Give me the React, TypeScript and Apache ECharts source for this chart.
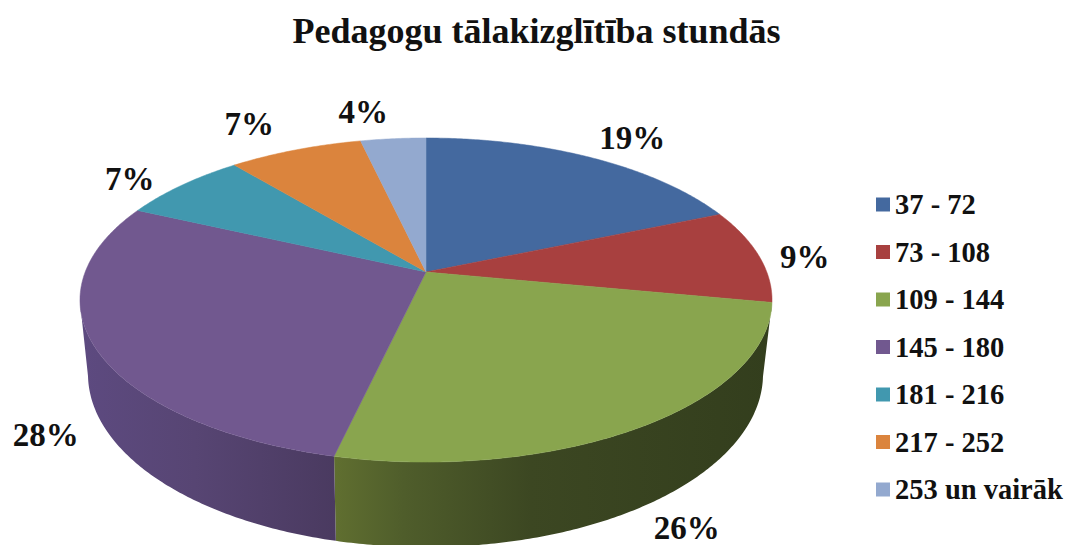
import React, { useEffect, useRef } from "react";
import * as echarts from "echarts";

const titleText = "Pedagogu tālakizglītība stundās";
const categories = ["37 - 72", "73 - 108", "109 - 144", "145 - 180", "181 - 216", "217 - 252", "253 un vairāk"];
const values = [18.6, 9.4, 25.6, 28.3, 7.1, 7.4, 3.6];
const colors = ["#44699f", "#a8403f", "#89a54e", "#71588f", "#4198af", "#db843d", "#93a9cf"];

// Offset of each percentage label from the middle of its slice's rim
const labelOffsets = [[42, -19], [46, 1], [43, 102], [-49, 88], [-52, -6], [-46, -26], [-30, -27]];

const wallStops: Record<number, [number, string][]> = {
  2: [[0, "#606f30"], [0.16, "#4f5d2b"], [0.45, "#3c4722"], [1, "#333e1d"]],
  3: [[0, "#5d4a80"], [0.45, "#574573"], [1, "#4a3a60"]],
};

// Perspective disc geometry
const CX = 426, APEX_Y = 272, PX = 340.8, PY = 157.2, K = 0.173;
const TOP_CY = 300, TOP_RX = 346, TOP_RY = 162;
const BOT_CX = 425.5, BOT_CY = 374, BOT_RX = 337.5, BOT_RY = 173;

const total = values.reduce((a, b) => a + b, 0);
const project = (theta: number) => {
  const w = 1 + K * Math.cos(theta);
  return [CX + (PX * Math.sin(theta)) / w, APEX_Y - (PY * Math.cos(theta)) / w];
};
const lower = (p: number[]) => [
  BOT_CX + ((p[0] - CX) / TOP_RX) * BOT_RX,
  BOT_CY + ((p[1] - TOP_CY) / TOP_RY) * BOT_RY,
];

const makeRender = (index: number) => (_params: any, api: any) => {
  const value = api.value(0);
  const before = values.slice(0, index).reduce((a, b) => a + b, 0);
  const start = (before / total) * Math.PI * 2;
  const sweep = (value / total) * Math.PI * 2;
  const steps = Math.max(8, Math.ceil(sweep / 0.01));
  const rim: number[][] = [];
  for (let i = 0; i <= steps; i++) rim.push(project(start + (sweep * i) / steps));

  const children: any[] = [];
  const front = rim.filter((p) => p[1] >= 302);
  if (front.length > 1) {
    const back = front.map(lower).reverse();
    const xs = front.concat(back).map((p) => p[0]);
    const stops = wallStops[index] || [[0, colors[index]], [1, colors[index]]];
    const ordered = stops.map(([offset, color]) => ({ offset, color }));
    children.push({
      type: "polygon",
      shape: { points: front.concat(back) },
      style: {
        fill: new echarts.graphic.LinearGradient(Math.min(...xs), 0, Math.max(...xs), 0, ordered, true),
        stroke: "none",
      },
    });
  }
  children.push({
    type: "polygon",
    shape: { points: [[CX, APEX_Y], ...rim] },
    style: { fill: colors[index], stroke: colors[index], lineWidth: 0.5 },
  });
  const mid = project(start + sweep / 2);
  const off = labelOffsets[index];
  children.push({
    type: "text",
    x: mid[0] + off[0],
    y: mid[1] + off[1],
    style: {
      text: `${Math.round((value / total) * 100)}%`,
      fill: "#111111",
      font: 'bold 33px "Liberation Serif"',
      align: "center",
      verticalAlign: "middle",
      textAlign: "center",
      textVerticalAlign: "middle",
    },
  });
  return { type: "group", children };
};

export default function App() {
  const ref = useRef<HTMLDivElement>(null);
  useEffect(() => {
    const chart = echarts.init(ref.current!, null, { renderer: "svg" });
    chart.setOption({
      animation: false,
      backgroundColor: "#ffffff",
      color: colors,
      title: {
        text: titleText,
        left: 536.5,
        top: 13,
        padding: 0,
        textAlign: "center",
        textStyle: { fontFamily: "Liberation Serif", fontWeight: "bold", fontSize: 36, color: "#111111" },
      },
      legend: {
        orient: "vertical",
        left: 876,
        top: 190,
        padding: 0,
        icon: "rect",
        itemWidth: 14,
        itemHeight: 14,
        itemGap: 18.5,
        data: categories,
        selectedMode: false,
        textStyle: {
          fontFamily: "Liberation Serif",
          fontWeight: "bold",
          fontSize: 28.5,
          color: "#111111",
        },
      },
      series: categories.map((name, i) => ({
        type: "custom",
        name,
        coordinateSystem: "none",
        silent: true,
        itemStyle: { color: colors[i] },
        data: [[values[i]]],
        renderItem: makeRender(i),
      })),
    });
    return () => chart.dispose();
  }, []);
  return <div ref={ref} style={{ position: "absolute", left: 0, top: 0, width: 1066, height: 545 }} />;
}
